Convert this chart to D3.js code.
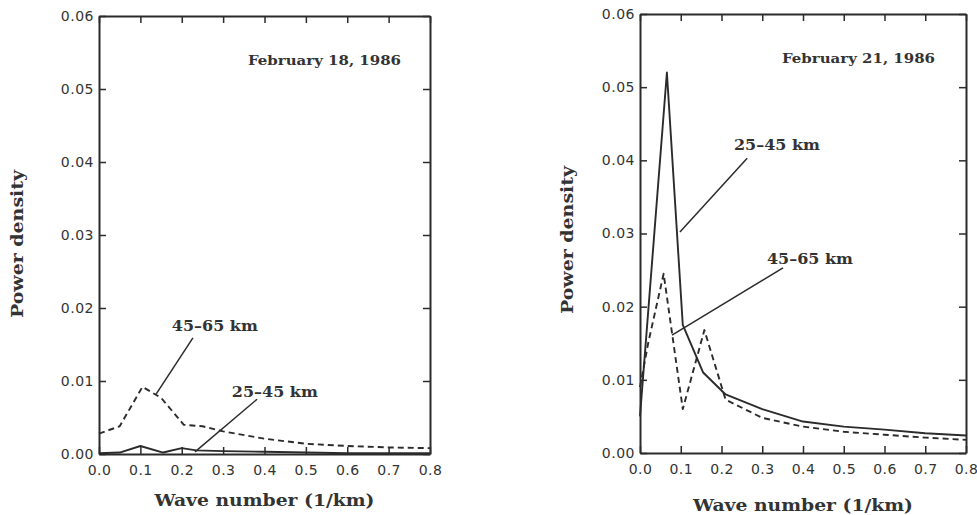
<!DOCTYPE html>
<html>
<head>
<meta charset="utf-8">
<script src="https://cdn.jsdelivr.net/npm/d3@7"></script>
<style>
  body { margin: 0; background: #fff; }
  .tick text { font-family: "DejaVu Sans", sans-serif; font-size: 14px; fill: #333; }
  .serif { font-family: "DejaVu Serif", serif; font-weight: bold; fill: #333; }
</style>
</head>
<body>
<svg id="chart" width="977" height="515"></svg>
<script>
// axis ticks
var waveTicks = [0, 0.1, 0.2, 0.3, 0.4, 0.5, 0.6, 0.7, 0.8];
var powerTicks = [0, 0.01, 0.02, 0.03, 0.04, 0.05, 0.06];

// February 18, 1986
var feb18WaveA = [0, 0.05, 0.1, 0.155, 0.2, 0.235, 0.3, 0.4, 0.5, 0.6, 0.7, 0.8];
var feb18PowerA = [0.0001, 0.0002, 0.0011, 0.0002, 0.0008, 0.0005, 0.0004, 0.0003, 0.0002, 0.0001, 0.0001, 0.0001]; // 25-45 km
var feb18WaveB = [0, 0.05, 0.105, 0.15, 0.205, 0.25, 0.3, 0.4, 0.5, 0.6, 0.7, 0.8];
var feb18PowerB = [0.0028, 0.0038, 0.0092, 0.0077, 0.004, 0.0038, 0.0031, 0.0021, 0.0014, 0.0011, 0.0009, 0.0008]; // 45-65 km

// February 21, 1986
var feb21WaveA = [0, 0.066, 0.105, 0.155, 0.21, 0.3, 0.4, 0.5, 0.6, 0.7, 0.8];
var feb21PowerA = [0.005, 0.052, 0.0175, 0.011, 0.008, 0.006, 0.0043, 0.0036, 0.0032, 0.0027, 0.0024];
var feb21WaveB = [0, 0.02, 0.058, 0.105, 0.158, 0.21, 0.3, 0.4, 0.5, 0.6, 0.7, 0.8];
var feb21PowerB = [0.009, 0.015, 0.0245, 0.006, 0.0168, 0.0073, 0.0048, 0.0036, 0.0029, 0.0025, 0.0021, 0.0018];

var svg = d3.select("#chart");
var ink = "#2b2b2b";

function drawPanel(box, title, series, notes) {
    var x = d3.scaleLinear().domain([0, 0.8]).range([box.left, box.right]);
    var y = d3.scaleLinear().domain([0, 0.06]).range([box.bottom, box.top]);
    var g = svg.append("g");

    // frame with inward ticks on all four sides
    var bottomAxis = g.append("g").attr("transform", `translate(0,${box.bottom})`)
        .call(d3.axisBottom(x).tickValues(waveTicks).tickSize(-7).tickSizeOuter(0).tickPadding(11).tickFormat(d3.format(".1f")));
    g.append("g").attr("transform", `translate(0,${box.top})`)
        .call(d3.axisTop(x).tickValues(waveTicks).tickSize(-7).tickSizeOuter(0).tickFormat(""));
    var leftAxis = g.append("g").attr("transform", `translate(${box.left},0)`)
        .call(d3.axisLeft(y).tickValues(powerTicks).tickSize(-7).tickSizeOuter(0).tickPadding(5).tickFormat(d3.format(".2f")));
    g.append("g").attr("transform", `translate(${box.right},0)`)
        .call(d3.axisRight(y).tickValues(powerTicks).tickSize(-7).tickSizeOuter(0).tickFormat(""));
    g.selectAll(".domain").attr("stroke", ink).attr("stroke-width", 2);
    g.selectAll(".tick line").attr("stroke", ink).attr("stroke-width", 1.5);
    bottomAxis.selectAll(".tick text").attr("letter-spacing", 0.5);
    leftAxis.selectAll(".tick text").attr("letter-spacing", 0.5);

    // series
    var line = d3.line().x(d => x(d[0])).y(d => y(d[1]));
    series.forEach(function (s) {
        g.append("path")
            .datum(d3.zip(s.wave, s.power))
            .attr("fill", "none")
            .attr("stroke", ink)
            .attr("stroke-width", 1.9)
            .attr("stroke-linejoin", "round")
            .attr("stroke-dasharray", s.dash)
            .attr("d", line);
    });

    // date label
    g.append("text").attr("class", "serif")
        .attr("x", x(title.at[0])).attr("y", y(title.at[1]))
        .attr("text-anchor", "end").attr("font-size", 13)
        .attr("textLength", 153).attr("lengthAdjust", "spacingAndGlyphs")
        .text(title.text);

    // annotations with leader lines
    notes.forEach(function (n) {
        g.append("text").attr("class", "serif")
            .attr("x", x(n.at[0])).attr("y", y(n.at[1]))
            .attr("text-anchor", "middle").attr("font-size", 14.5)
            .attr("textLength", 86).attr("lengthAdjust", "spacingAndGlyphs")
            .text(n.text);
        g.append("line")
            .attr("x1", x(n.from[0])).attr("y1", y(n.from[1]))
            .attr("x2", x(n.to[0])).attr("y2", y(n.to[1]))
            .attr("stroke", ink).attr("stroke-width", 1.5);
    });

    // axis titles
    var cx = (box.left + box.right) / 2;
    g.append("text").attr("class", "serif")
        .attr("x", cx).attr("y", box.titleY)
        .attr("text-anchor", "middle").attr("font-size", 17)
        .attr("textLength", 220).attr("lengthAdjust", "spacingAndGlyphs")
        .text("Wave number (1/km)");
    g.append("text").attr("class", "serif")
        .attr("transform", `translate(${box.ylabX},${box.ylabY}) rotate(-90)`)
        .attr("text-anchor", "middle").attr("font-size", 17)
        .attr("textLength", 148).attr("lengthAdjust", "spacingAndGlyphs")
        .text("Power density");
}

drawPanel({ left: 99, right: 430, top: 16, bottom: 454, titleY: 506, ylabX: 23, ylabY: 244 },
    { text: "February 18, 1986", at: [0.73, 0.0533] },
    [
        { wave: feb18WaveA, power: feb18PowerA, dash: null },
        { wave: feb18WaveB, power: feb18PowerB, dash: "6,4" }
    ],
    [
        { text: "45\u201365 km", at: [0.28, 0.0168], from: [0.227, 0.0159], to: [0.138, 0.0082] },
        { text: "25\u201345 km", at: [0.425, 0.0078], from: [0.382, 0.0075], to: [0.232, 0.0003] }
    ]);

drawPanel({ left: 640, right: 966, top: 14, bottom: 453, titleY: 511, ylabX: 573, ylabY: 240 },
    { text: "February 21, 1986", at: [0.724, 0.0533] },
    [
        { wave: feb21WaveA, power: feb21PowerA, dash: null },
        { wave: feb21WaveB, power: feb21PowerB, dash: "6,4" }
    ],
    [
        { text: "25\u201345 km", at: [0.336, 0.0414], from: [0.263, 0.0403], to: [0.098, 0.0302] },
        { text: "45\u201365 km", at: [0.417, 0.0258], from: [0.351, 0.0253], to: [0.0785, 0.0161] }
    ]);
</script>
</body>
</html>
